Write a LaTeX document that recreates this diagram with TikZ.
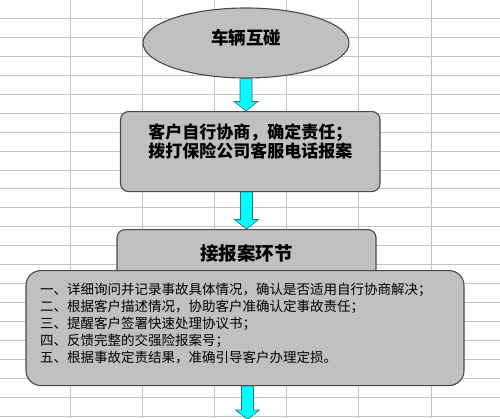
\documentclass[tikz,border=0pt]{standalone}
\usepackage{fontspec}
\setmainfont{Noto Sans CJK SC}
\usepackage{tikz}
\usetikzlibrary{shapes.geometric, calc}

\definecolor{boxgrey}{HTML}{C0C0C0}
\definecolor{boxedge}{HTML}{4A4A4A}
\definecolor{cellline}{HTML}{C4C4C4}
\definecolor{arrowcyan}{HTML}{00FFFF}
\definecolor{arrowedge}{HTML}{2E6E78}

% block arrow from point #1 down to point #2
\newcommand{\flowarrow}[2]{%
  \draw[cyanarrow] let \p1=#1, \p2=#2 in
    (\x1-6pt,\y1) -- (\x1+6pt,\y1) -- (\x1+6pt,\y2+9.5pt) -- (\x1+12pt,\y2+9.5pt)
    -- (\x1,\y2) -- (\x1-12pt,\y2+9.5pt) -- (\x1-6pt,\y2+9.5pt) -- cycle;}

\begin{document}
\begin{tikzpicture}[x=1pt, y=-1pt,
  flowbox/.style={draw=boxedge, line width=1.1pt, fill=boxgrey, rectangle, inner sep=0pt},
  cyanarrow/.style={draw=arrowedge, line width=0.6pt, fill=arrowcyan},
  cellline/.style={draw=cellline, line width=0.9pt}]
\useasboundingbox (0,0) rectangle (500,418);
\clip (0,0) rectangle (500,418);

% Spreadsheet grid
\fill[white] (0,0) rectangle (500,418);
\foreach \k in {0,...,5}
  \draw[cellline] ({70.5+72.1*\k},0) -- ++(0,418);
\foreach \k in {0,...,21}
  \draw[cellline] (0,{18.2+18.97*\k}) -- ++(500,0);

% Start
\node[draw=boxedge, line width=1.1pt, fill=boxgrey, ellipse, inner sep=0pt, minimum width=206pt, minimum height=70pt,
  text height=13pt, text depth=10pt, font=\fontsize{17.5}{20}\selectfont\bfseries] (crash) at (246,43) {车辆互碰};

% Customer step
\node[flowbox, rounded corners=8pt, anchor=north, minimum width=259.5pt, text width=250pt, align=center,
  text height=26.5pt, text depth=53.5pt, font=\fontsize{17}{19.7}\selectfont\bfseries] (report) at (250.25,111)
  {客户自行协商，确定责任；\\拨打保险公司客服电话报案};

% Report handling
\node[flowbox, rounded corners=8pt, anchor=north, minimum width=259pt,
  text height=30.7pt, text depth=17.3pt, font=\fontsize{18.5}{21}\selectfont\bfseries] (accept) at (246.5,229) {接报案环节};

\node[flowbox, rounded corners=15pt, anchor=north, minimum width=438pt, text width=410pt, align=left,
  text height=24pt, text depth=91pt, font=\fontsize{13.5}{16.9}\selectfont] (steps) at (245,270)
  {一、详细询问并记录事故具体情况，确认是否适用自行协商解决；\\
   二、根据客户描述情况，协助客户准确认定事故责任；\\
   三、提醒客户签署快速处理协议书；\\
   四、反馈完整的交强险报案号；\\
   五、根据事故定责结果，准确引导客户办理定损。};

\coordinate (exit) at (247.5,419.5);

% Arrows
\flowarrow{(crash.south)}{(report.north)}
\flowarrow{(report.south -| accept.north)}{(accept.north)}
\flowarrow{([xshift=2.5pt]steps.south)}{(exit)}

\end{tikzpicture}
\end{document}
